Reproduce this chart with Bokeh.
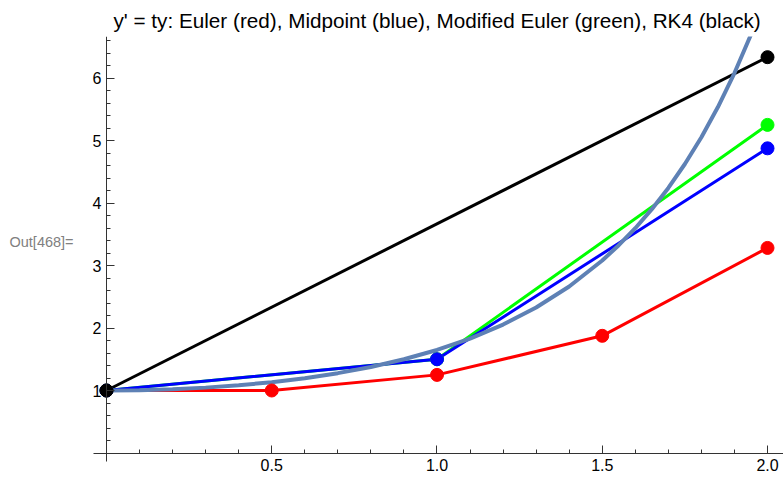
from bokeh.plotting import figure
from bokeh.models import LinearAxis, FixedTicker, Range1d, Label
from bokeh.embed import file_html
from bokeh.resources import INLINE

# Euler (h=0.5)
euler_t = [0.0, 0.5, 1.0, 1.5, 2.0]
euler_y = [1.0, 1.0, 1.25, 1.875, 3.28125]
# Midpoint (h=1)
mid_t = [0.0, 1.0, 2.0]
mid_y = [1.0, 1.5, 4.875]
# Modified Euler (h=1)
mod_t = [0.0, 1.0, 2.0]
mod_y = [1.0, 1.5, 5.25]
# RK4 (h=2)
rk4_t = [0.0, 2.0]
rk4_y = [1.0, 6.33333]
# exact solution curve values
exact_t = [0.0, 0.1, 0.2, 0.3, 0.4, 0.5, 0.6, 0.7, 0.8, 0.9, 1.0, 1.1, 1.2, 1.3,
           1.4, 1.5, 1.55, 1.6, 1.65, 1.7, 1.75, 1.8, 1.85, 1.9, 1.95, 2.0]
exact_y = [1.0, 1.00501, 1.0202, 1.04603, 1.08329, 1.13315, 1.19722, 1.27762,
           1.37713, 1.4993, 1.64872, 1.83123, 2.05443, 2.32798, 2.66446, 3.08022,
           3.3243, 3.59664, 3.9011, 4.24113, 4.624, 5.05309, 5.5359, 6.07997,
           6.6942, 7.38906]

x_major = [0.5, 1.0, 1.5, 2.0]
x_minor = [0.1, 0.2, 0.3, 0.4, 0.6, 0.7, 0.8, 0.9, 1.1, 1.2, 1.3, 1.4, 1.6, 1.7, 1.8, 1.9]
y_major = [1, 2, 3, 4, 5, 6]
y_minor = [0.2, 0.4, 0.6, 0.8, 1.2, 1.4, 1.6, 1.8, 2.2, 2.4, 2.6, 2.8, 3.2, 3.4, 3.6, 3.8,
           4.2, 4.4, 4.6, 4.8, 5.2, 5.4, 5.6, 5.8, 6.2, 6.4, 6.6]

title_text = "y' = ty: Euler (red), Midpoint (blue), Modified Euler (green), RK4 (black)"

X_START, X_END = -0.3207, 2.0484
Y_START, Y_END = -0.456, 6.664

p = figure(width=783, height=481, output_backend="svg", toolbar_location=None,
           x_axis_type=None, y_axis_type=None,
           x_range=Range1d(X_START, X_END), y_range=Range1d(Y_START, Y_END),
           min_border_left=0, min_border_right=0, min_border_top=36, min_border_bottom=0,
           title=title_text)
p.grid.visible = False
p.outline_line_color = None
p.title.text_font = "Liberation Sans"
p.title.text_font_size = "20.7px"
p.title.text_font_style = "normal"
p.title.align = "left"
p.title.offset = 113
p.title.text_color = "black"

axis_color = "#333333"
xaxis = LinearAxis(fixed_location=0, ticker=FixedTicker(ticks=x_major, minor_ticks=x_minor),
                   bounds=(-0.0393, X_END))
xaxis.major_label_overrides = {0.5: "0.5", 1.0: "1.0", 1.5: "1.5", 2.0: "2.0"}
yaxis = LinearAxis(fixed_location=0, ticker=FixedTicker(ticks=y_major, minor_ticks=y_minor),
                   bounds=(-0.136, Y_END))
for ax in (xaxis, yaxis):
    ax.axis_line_color = axis_color
    ax.major_tick_line_color = axis_color
    ax.minor_tick_line_color = axis_color
    ax.major_tick_in = 8
    ax.major_tick_out = 0
    ax.minor_tick_in = 4
    ax.minor_tick_out = 0
    ax.major_label_text_font = "Liberation Sans"
    ax.major_label_text_font_size = "16px"
    ax.major_label_text_color = "black"
xaxis.major_label_standoff = 6
yaxis.major_label_standoff = 5
p.add_layout(xaxis, "below")
p.add_layout(yaxis, "left")

lw = 3
p.line(rk4_t, rk4_y, color="black", line_width=lw)
p.line(euler_t, euler_y, color="#FF0000", line_width=lw)
p.line(mod_t, mod_y, color="#00FF00", line_width=lw)
p.line(mid_t, mid_y, color="#0000FF", line_width=lw)
p.line(exact_t, exact_y, color="#5E81B5", line_width=4)

sz = 13
p.scatter(euler_t, euler_y, size=sz, color="#FF0000")
p.scatter(mod_t, mod_y, size=sz, color="#00FF00")
p.scatter(mid_t, mid_y, size=sz, color="#0000FF")
p.scatter(rk4_t, rk4_y, size=sz, color="black")

out_label = Label(x=-0.2935, y=3.384, text="Out[468]=", text_font="Liberation Sans",
                  text_font_size="14.5px", text_color="#808080", text_baseline="middle")
p.add_layout(out_label)

open("out.html", "w").write(file_html(p, INLINE))
